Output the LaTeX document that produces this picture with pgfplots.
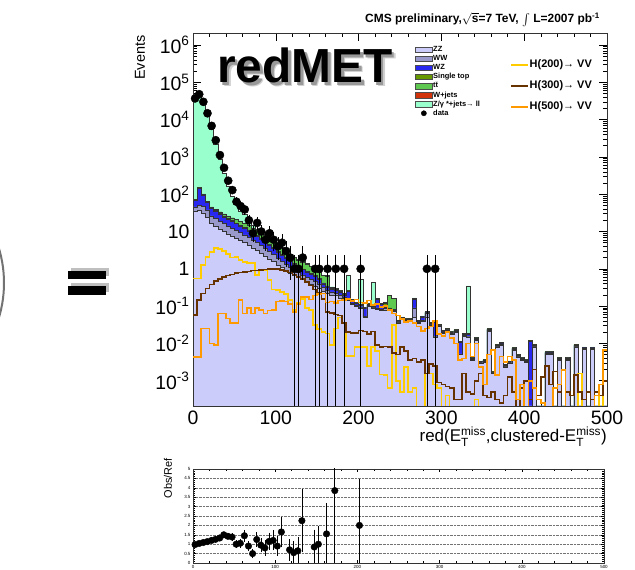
\documentclass[border=0pt]{standalone}
\usepackage{fontspec}
\setmainfont{Liberation Sans}
\usepackage{amsmath}
\usepackage{pgfplots}
\usepackage{pgfplotstable}
\pgfplotsset{compat=1.18}

\definecolor{czz}{RGB}{204,204,250}
\definecolor{cww}{RGB}{153,153,204}
\definecolor{cwz}{RGB}{40,40,240}
\definecolor{cst}{RGB}{102,153,0}
\definecolor{ctt}{RGB}{95,200,80}
\definecolor{cwj}{RGB}{210,50,10}
\definecolor{czj}{RGB}{153,255,204}
\definecolor{chA}{RGB}{255,204,0}
\definecolor{chB}{RGB}{102,51,0}
\definecolor{chC}{RGB}{255,153,0}

% cumulative stack (zz <= ww <= wz <= st <= tt <= tot) and signal shapes, 5-unit bins
\pgfplotstableread{
x zz ww wz st tt tot hA hB hC
0 35.5 45.7 69.2 70.8 74.1 38000 0.55 0.0575 0.00437
5 37.2 50.1 144.5 147.9 154.9 45700 0.55 0.145 0.00437
10 31.6 47.9 95.5 97.7 102.3 27500 1.26 0.219 0.0251
15 24.0 38.0 60.3 61.7 64.6 12600 2.09 0.295 0.0251
20 16.6 26.3 41.7 42.7 45.7 5500 2.82 0.380 0.01
25 13.8 22.4 34.7 36.3 39.8 2190 3.55 0.468 0.00891
30 11.7 19.1 28.8 30.2 33.9 851 3.39 0.537 0.0631
35 10.0 16.2 24.5 25.7 29.5 363 2.95 0.603 0.0631
40 8.71 14.1 21.4 22.4 26.3 166 2.51 0.661 0.0468
45 7.59 12.3 18.6 19.5 23.4 89.1 2.00 0.708 0.0347
50 6.61 10.7 16.2 17.0 20.9 53.7 2.09 0.759 0.0347
55 5.75 9.33 14.1 14.8 18.6 35.5 1.70 0.794 0.145
60 5.01 8.13 12.3 12.9 16.6 28.2 1.55 0.832 0.0631
65 4.27 6.92 10.5 11.0 14.5 19.1 1.45 0.851 0.0891
70 3.63 5.89 8.91 9.33 12.6 14.5 1.45 0.891 0.0631
75 3.09 5.01 7.59 7.94 11.0 11.7 0.676 0.912 0.0891
80 2.63 4.17 6.31 6.61 9.33 9.77 0.955 0.933 0.0794
85 2.24 3.47 5.25 5.50 7.94 8.32 0.891 0.955 0.0631
90 1.86 2.88 4.37 4.57 6.61 6.92 0.501 1.00 0.0759
95 1.55 2.40 3.63 3.80 5.50 5.75 0.282 1.00 0.0794
100 1.26 1.91 2.75 2.88 4.17 4.37 0.269 0.977 0.132
105 1.07 1.58 2.29 2.40 3.55 3.72 0.240 0.933 0.138
110 0.912 1.32 1.91 2.00 2.95 3.31 0.209 0.871 0.132
115 0.776 1.10 1.58 1.66 2.40 2.51 0.145 0.794 0.112
120 0.676 0.933 1.32 1.38 2.00 2.09 0.0794 0.708 0.0708
125 0.589 0.794 1.12 1.17 1.74 1.82 0.126 0.603 0.112
130 0.513 0.692 0.955 1.00 1.51 1.58 0.158 0.525 0.178
135 0.447 0.603 0.832 0.871 1.32 1.38 0.0891 0.447 0.178
140 0.389 0.525 0.708 0.741 1.15 1.20 0.0794 0.355 0.151
145 0.339 0.468 0.631 0.661 1.00 1.05 0.0316 0.282 0.191
150 0.295 0.398 0.537 0.562 0.832 0.871 0.0240 0.224 0.209
155 0.251 0.316 0.398 0.417 0.661 0.692 0.0200 0.158 0.219
160 0.219 0.263 0.331 0.347 0.631 0.661 0.0186 0.0708 0.126
165 0.200 0.240 0.282 0.295 0.316 0.331 0.00891 0.0646 0.132
170 0.191 0.224 0.269 0.282 0.288 0.302 0.0251 0.0603 0.120
175 0.166 0.191 0.240 0.251 0.257 0.269 0.0501 0.0562 0.141
180 0.158 0.174 0.200 0.204 0.209 0.219 0.0355 0.0355 0.145
185 0.141 0.158 0.251 0.257 0.263 0.661 0.00468 0.0200 0.158
190 0.112 0.120 0.145 0.148 0.151 0.155 0.00468 0.0191 0.138
195 0.100 0.105 0.117 0.120 0.123 0.126 0.00794 0.0191 0.151
200 0.0891 0.0955 0.105 0.107 0.110 0.525 0.00794 0.0224 0.126
205 0.0501 0.0525 0.0891 0.0912 0.0933 0.0955 0.00794 0.0209 0.120
210 0.100 0.105 0.110 0.112 0.115 0.117 0.00251 0.0178 0.141
215 0.0891 0.0933 0.100 0.102 0.105 0.427 0.00794 0.0209 0.107
220 0.0832 0.0891 0.151 0.155 0.158 0.162 0.00631 0.00891 0.112
225 0.0759 0.0832 0.112 0.115 0.117 0.120 0.00148 0.00794 0.0955
230 0.0794 0.0871 0.0955 0.117 0.126 0.129 0.00141 0.00832 0.100
235 0.0759 0.0794 0.0832 0.0891 0.191 0.195 0.000631 0.00794 0.0794
240 0.0708 0.0759 0.0794 0.0832 0.158 0.162 0.0316 0.00562 0.0631
245 0.0355 0.0380 0.0398 0.0407 0.0417 0.0427 0.001 0.00501 0.0562
250 0.0447 0.0468 0.0479 0.0490 0.0501 0.0513 0.0005 0.00794 0.0447
255 0.0398 0.0417 0.0437 0.0447 0.0457 0.0468 0.00234 0.00631 0.0380
260 0.0417 0.0437 0.0447 0.0457 0.0468 0.0479 0.0005 0.00355 0.0398
265 0.0501 0.0891 0.155 0.158 0.162 0.166 0.000631 0.00398 0.0355
270 0.0347 0.0363 0.0380 0.0389 0.0398 0.0407 1e-6 0.00316 0.0282
275 0.0398 0.0417 0.0513 0.0525 0.0537 0.0550 1e-6 0.00355 0.0214
280 0.0513 0.0631 0.0661 0.0676 0.0692 0.0708 0.00158 0.00158 0.0251
285 0.0316 0.0331 0.0347 0.0355 0.0363 0.0372 0.00158 0.00282 0.0282
290 0.0151 0.0158 0.0372 0.0380 0.0389 0.0398 0.000794 0.00251 0.0398
295 0.0282 0.0295 0.0309 0.0316 0.0324 0.0331 0.000631 0.000891 0.0178
300 0.0186 0.0195 0.0204 0.0209 0.0214 0.0219 1e-6 0.000794 0.0158
305 0.0219 0.0229 0.0240 0.0245 0.0251 0.0257 0.000398 0.000708 0.0200
310 0.0178 0.0186 0.0195 0.0200 0.0204 0.0209 1e-6 0.000631 0.0141
315 0.0200 0.0209 0.0219 0.0224 0.0229 0.0234 1e-6 0.000316 0.01
320 0.00501 0.00525 0.0110 0.0112 0.0115 0.0117 1e-6 0.000316 0.00355
325 0.0158 0.0166 0.0174 0.0178 0.0182 0.0186 1e-6 0.00158 0.00398
330 0.0151 0.0158 0.0178 0.0182 0.0186 0.347 1e-6 0.0005 0.01
335 0.00355 0.00372 0.00389 0.00398 0.00407 0.00417 1e-6 0.000447 0.00447
340 0.0123 0.0129 0.0135 0.0138 0.0141 0.0145 0.000316 0.001 0.01
345 0.00288 0.00302 0.00316 0.00324 0.00331 0.00339 1e-6 0.00158 0.00234
350 0.00316 0.00331 0.00347 0.00355 0.00363 0.00372 1e-6 0.000398 0.000794
355 0.0214 0.0224 0.0234 0.0240 0.0245 0.0251 1e-6 0.000355 0.00501
360 0.00155 0.00162 0.00170 0.00174 0.00178 0.00182 1e-6 0.0005 0.00661
365 0.00813 0.00851 0.00891 0.00912 0.00933 0.00955 1e-6 0.000316 0.00141
370 0.00891 0.00933 0.00977 0.0100 0.0102 0.0105 1e-6 0.000251 0.00447
375 0.00234 0.00245 0.00257 0.00263 0.00269 0.00275 1e-6 0.000398 0.00316
380 0.00288 0.00302 0.00316 0.00324 0.00331 0.00339 1e-6 0.00126 0.00447
385 0.00661 0.00692 0.00724 0.00741 0.00759 0.00776 1e-6 0.0005 0.00355
390 0.00437 0.00457 0.00479 0.00490 0.00501 0.00513 1e-6 1e-6 0.000316
395 0.00355 0.00372 0.00389 0.00398 0.00407 0.00417 1e-6 0.000631 0.000794
400 0.00316 0.00331 0.00347 0.00355 0.00363 0.00372 1e-6 0.001 1e-6
405 1e-6 1e-6 0.0115 0.0117 0.0120 0.0123 1e-6 0.000316 0.001
410 0.00813 0.00851 0.00891 0.00912 0.00933 0.00955 1e-6 0.002 0.000631
415 1e-6 1e-6 1e-6 1e-6 1e-6 1e-6 1e-6 0.000398 0.000316
420 1e-6 1e-6 1e-6 1e-6 1e-6 1e-6 1e-6 0.00126 0.000251
425 0.00513 0.00537 0.00562 0.00575 0.00589 0.00603 1e-6 0.00251 1e-6
430 0.00513 0.00537 0.00562 0.00575 0.00589 0.00603 1e-6 0.000794 1e-6
435 1e-6 1e-6 1e-6 1e-6 1e-6 1e-6 1e-6 0.00178 0.000631
440 0.00355 0.00372 0.00389 0.00398 0.00407 0.00417 1e-6 0.0005 0.000794
445 1e-6 1e-6 1e-6 1e-6 1e-6 1e-6 1e-6 0.002 0.00191
450 0.00355 0.00372 0.00389 0.00398 0.00407 0.00417 1e-6 0.0005 1e-6
455 1e-6 1e-6 1e-6 1e-6 1e-6 1e-6 1e-6 0.000398 1e-6
460 0.00813 0.00851 0.00891 0.00912 0.00933 0.00955 1e-6 0.00141 1e-6
465 1e-6 1e-6 1e-6 1e-6 1e-6 1e-6 0.00155 0.0005 1e-6
470 0.00692 0.00724 0.00759 0.00776 0.00794 0.00813 1e-6 0.000316 1e-6
475 1e-6 1e-6 1e-6 1e-6 1e-6 1e-6 1e-6 0.0005 1e-6
480 0.00692 0.00724 0.00759 0.00776 0.00794 0.00813 1e-6 0.000316 1e-6
485 1e-6 1e-6 1e-6 1e-6 1e-6 1e-6 1e-6 0.0005 0.000398
490 1e-6 1e-6 1e-6 1e-6 1e-6 1e-6 0.000794 0.000398 0.000794
495 1e-6 1e-6 1e-6 1e-6 1e-6 1e-6 1e-6 0.001 0.00661
500 1e-6 1e-6 1e-6 1e-6 1e-6 1e-6 1e-6 0.001 0.00661
}\mctab

% observed counts with Poisson errors
\pgfplotstableread{
x n ep em
2.5 37000 192 192
7.5 48000 219 219
12.5 30000 173 173
17.5 14800 122 122
22.5 6800 82 82
27.5 2800 53 53
32.5 1120 33 33
37.5 510 23 23
42.5 230 15 15
47.5 129 11 11
52.5 63 8 8
57.5 48 7 7
62.5 39 6.2 6.2
67.5 20 4.5 4.5
72.5 9 3 3
77.5 17 4.1 4.1
82.5 10 3.2 3.2
87.5 6 2.4 2.4
92.5 9 3 3
97.5 6 2.4 2.4
102.5 4 2 2
107.5 5 2.2 2.2
112.5 3 1.7 1.7
117.5 2 1.4 1.4
122.5 1 1 0.9999
127.5 1 1 0.9999
132.5 2 1.4 1.4
147.5 1 1 0.9999
152.5 1 1 0.9999
162.5 1 1 0.9999
172.5 1 1 0.9999
182.5 1 1 0.9999
202.5 1 1 0.9999
282.5 1 1 0.9999
292.5 1 1 0.9999
}\datatab

% observed / expected
\pgfplotstableread{
x r ep em
2.5 0.98 0.01 0.01
7.5 1.04 0.01 0.01
12.5 1.09 0.01 0.01
17.5 1.14 0.01 0.01
22.5 1.20 0.015 0.015
27.5 1.26 0.025 0.025
32.5 1.33 0.04 0.04
37.5 1.50 0.07 0.07
42.5 1.42 0.09 0.09
47.5 1.38 0.12 0.12
52.5 1.00 0.13 0.13
57.5 1.05 0.15 0.15
62.5 1.45 0.23 0.23
67.5 0.90 0.2 0.2
72.5 0.50 0.17 0.17
77.5 1.25 0.3 0.3
82.5 0.95 0.3 0.3
87.5 0.80 0.33 0.33
92.5 1.15 0.38 0.38
97.5 1.20 0.45 0.45
102.5 0.90 0.45 0.45
107.5 1.65 0.74 0.74
117.5 0.70 0.5 0.5
122.5 0.55 0.55 0.55
127.5 0.65 0.65 0.65
132.5 2.25 1.6 1.6
147.5 0.85 0.85 0.85
152.5 1.00 0.9 1.0
162.5 1.55 1.55 1.55
172.5 3.85 3.85 3.85
202.5 2.00 2.4 2.0
}\ratiotab

\newcommand{\etm}{E$^{\text{miss}}_{\text{T}}$}

\begin{document}
\begin{tikzpicture}
\useasboundingbox (0,0) rectangle (635bp,570bp);

% slide leftovers: closing bracket and equals sign
\draw[black!55, line width=2bp] (-117bp,287bp) ++(-20:121bp) arc (-20:20:121bp);
\fill[black!25] (71bp,294bp) rectangle (109bp,302bp);
\fill[black!25] (71bp,278bp) rectangle (109bp,287bp);
\fill[black] (68bp,290.5bp) rectangle (106bp,298.5bp);
\fill[black] (68bp,274.5bp) rectangle (106bp,283.5bp);

\begin{axis}[
  at={(193bp,164bp)}, anchor=south west, scale only axis,
  width=414bp, height=373bp,
  xmin=0, xmax=500, ymode=log, ymin=2.1e-4, ymax=2.1e6,
  log origin y=infty,
  xtick={0,100,200,300,400,500}, minor x tick num=4,
  ytick={1e-3,1e-2,1e-1,1,10,100,1e3,1e4,1e5,1e6},
  yticklabels={10\textsuperscript{-3},10\textsuperscript{-2},10\textsuperscript{-1},1,10,10\textsuperscript{2},10\textsuperscript{3},10\textsuperscript{4},10\textsuperscript{5},10\textsuperscript{6}},
  xticklabels={0,100,200,300,400,500},
  tick label style={font=\fontsize{19.5}{20}\selectfont},
  xticklabel style={yshift=-1bp},
  major tick length=8bp, minor tick length=4bp,
  every tick/.style={black, line width=0.5bp},
  axis line style={line width=0.8bp, black!80},
  legend cell align=left,
  legend style={at={(0.536,0.967)}, anchor=north west, draw=none, fill=none,
    inner sep=0pt, font=\bfseries\fontsize{7.5}{8}\selectfont, row sep=1bp,
    nodes={inner sep=0.6bp, text height=5.4bp, text depth=1.5bp},
    /tikz/every even column/.append style={column sep=1.5bp}},
]
\addplot[const plot, fill=czj, draw=black!80, line width=0.45bp, forget plot] table[x=x,y=tot]{\mctab} \closedcycle;
\addplot[const plot, fill=ctt, draw=black!80, line width=0.45bp, forget plot] table[x=x,y=tt]{\mctab} \closedcycle;
\addplot[const plot, fill=cst, draw=black!80, line width=0.45bp, forget plot] table[x=x,y=st]{\mctab} \closedcycle;
\addplot[const plot, fill=cwz, draw=black!80, line width=0.45bp, forget plot] table[x=x,y=wz]{\mctab} \closedcycle;
\addplot[const plot, fill=cww, draw=black!80, line width=0.45bp, forget plot] table[x=x,y=ww]{\mctab} \closedcycle;
\addplot[const plot, fill=czz, draw=black!80, line width=0.45bp, forget plot] table[x=x,y=zz]{\mctab} \closedcycle;

\addplot[const plot, draw=chA, line width=1.6bp, forget plot] table[x=x,y=hA]{\mctab};
\addplot[const plot, draw=chB, line width=1.6bp, forget plot] table[x=x,y=hB]{\mctab};
\addplot[const plot, draw=chC, line width=1.6bp, forget plot] table[x=x,y=hC]{\mctab};

\addplot[only marks, mark=*, mark size=4.1bp, black, forget plot,
  error bars/.cd, y dir=both, y explicit,
  error bar style={line width=0.7bp, black},
  error mark options={line width=0.7bp, mark size=2.5bp}]
  table[x=x, y=n, y error plus=ep, y error minus=em]{\datatab};

\addlegendimage{legend image code/.code={\draw[fill=czz,draw=black!70,line width=0.5bp] (0bp,-2.8bp) rectangle (17bp,2.8bp);}}
\addlegendentry{ZZ}
\addlegendimage{legend image code/.code={\draw[fill=cww,draw=black!70,line width=0.5bp] (0bp,-2.8bp) rectangle (17bp,2.8bp);}}
\addlegendentry{WW}
\addlegendimage{legend image code/.code={\draw[fill=cwz,draw=black!70,line width=0.5bp] (0bp,-2.8bp) rectangle (17bp,2.8bp);}}
\addlegendentry{WZ}
\addlegendimage{legend image code/.code={\draw[fill=cst,draw=black!70,line width=0.5bp] (0bp,-2.8bp) rectangle (17bp,2.8bp);}}
\addlegendentry{Single top}
\addlegendimage{legend image code/.code={\draw[fill=ctt,draw=black!70,line width=0.5bp] (0bp,-2.8bp) rectangle (17bp,2.8bp);}}
\addlegendentry{t$\bar{\mbox{t}}$}
\addlegendimage{legend image code/.code={\draw[fill=cwj,draw=black!70,line width=0.5bp] (0bp,-2.8bp) rectangle (17bp,2.8bp);}}
\addlegendentry{W+jets}
\addlegendimage{legend image code/.code={\draw[fill=czj,draw=black!70,line width=0.5bp] (0bp,-2.8bp) rectangle (17bp,2.8bp);}}
\addlegendentry{Z/γ *+jets→ ll}
\addlegendimage{legend image code/.code={\fill[black] (8.5bp,0bp) circle (2.6bp);}}
\addlegendentry{data}
\end{axis}

% signal legend
\begin{axis}[
  at={(193bp,164bp)}, anchor=south west, scale only axis,
  width=414bp, height=373bp, hide axis,
  xmin=0, xmax=1, ymin=0, ymax=1,
  legend cell align=left,
  legend style={at={(0.766,0.930)}, anchor=north west, draw=none, fill=none,
    inner sep=0pt, font=\bfseries\fontsize{11}{12}\selectfont, row sep=9.3bp,
    nodes={inner sep=0.6bp, text height=8bp, text depth=2.5bp},
    /tikz/every even column/.append style={column sep=3bp}},
]
\addlegendimage{legend image code/.code={\draw[draw=chA, line width=1.8bp] (0bp,0bp) -- (17bp,0bp);}}
\addlegendentry{H(200)→ VV}
\addlegendimage{legend image code/.code={\draw[draw=chB, line width=1.8bp] (0bp,0bp) -- (17bp,0bp);}}
\addlegendentry{H(300)→ VV}
\addlegendimage{legend image code/.code={\draw[draw=chC, line width=1.8bp] (0bp,0bp) -- (17bp,0bp);}}
\addlegendentry{H(500)→ VV}
\end{axis}

% ratio panel
\begin{axis}[
  at={(193bp,7bp)}, anchor=south west, scale only axis,
  width=411bp, height=94bp,
  xmin=0, xmax=500, ymin=0, ymax=5,
  xtick={0,100,200,300,400,500}, minor x tick num=4,
  ytick={0,0.5,1,1.5,2,2.5,3,3.5,4,4.5,5}, minor y tick num=4,
  ymajorgrids, major grid style={densely dotted, black!55, line width=0.4bp},
  /pgf/number format/assume math mode=true,
  tick label style={font=\fontsize{4.5}{5}\selectfont},
  xticklabel style={yshift=1bp}, yticklabel style={xshift=1bp},
  major tick length=3bp, minor tick length=2bp,
  every tick/.style={black, line width=0.4bp},
  axis line style={line width=0.5bp, black!80},
]
\addplot[only marks, mark=*, mark size=3.3bp, black,
  error bars/.cd, y dir=both, y explicit,
  error bar style={line width=0.6bp, black},
  error mark options={line width=0.6bp, mark size=1.5bp}]
  table[x=x, y=r, y error plus=ep, y error minus=em]{\ratiotab};
\end{axis}

% texts
\node[anchor=base east, font=\bfseries\fontsize{12}{12}\selectfont, inner sep=0pt] at (600bp,547bp)
  {CMS preliminary,$\sqrt{\mbox{s}}$=7 TeV, $\int$ L=2007 pb\textsuperscript{-1}};
\node[rotate=90, anchor=east, font=\fontsize{14.5}{15}\selectfont] at (140bp,538bp) {Events};
\node[anchor=base east, font=\fontsize{17}{18}\selectfont, inner sep=0pt] at (607bp,128bp)
  {red(\etm,clustered-\etm)};
\node[rotate=90, anchor=east, font=\fontsize{11}{12}\selectfont, inner sep=0pt] at (168bp,112bp) {Obs/Ref};

% big label with soft shadow
\node[anchor=base, font=\bfseries\fontsize{48}{50}\selectfont, text=black!18] at (309bp,483bp) {redMET};
\node[anchor=base, font=\bfseries\fontsize{48}{50}\selectfont, text=black!40] at (307.5bp,484.5bp) {redMET};
\node[anchor=base, font=\bfseries\fontsize{48}{50}\selectfont, text=black] at (305bp,487bp) {redMET};
\end{tikzpicture}
\end{document}
